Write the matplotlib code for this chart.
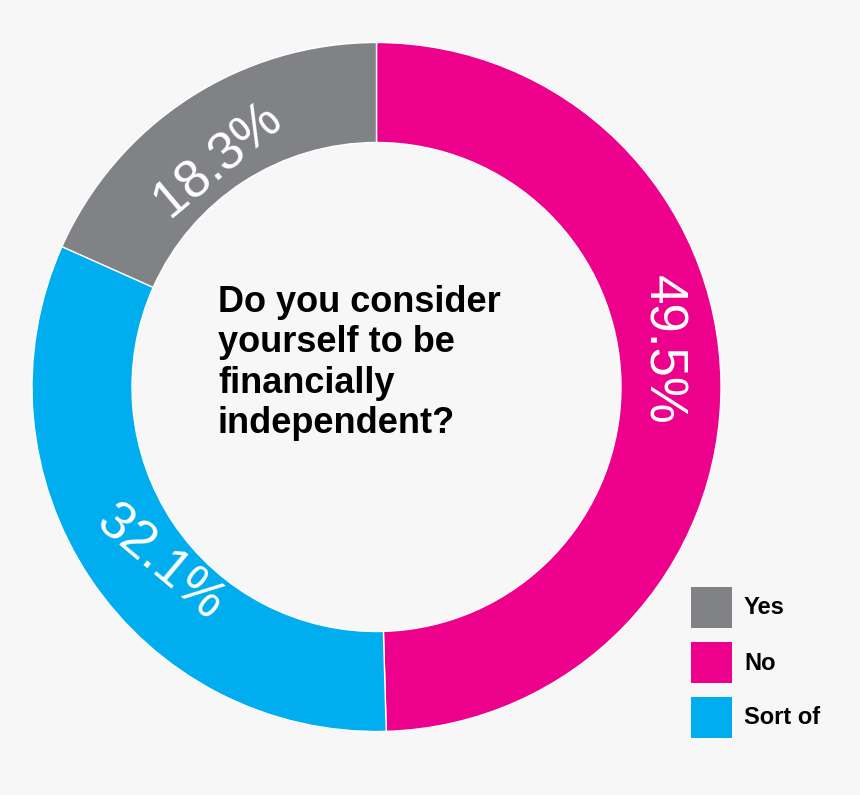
import matplotlib.pyplot as plt
from matplotlib.patches import Rectangle

categories = ["No", "Sort of", "Yes"]
values = [49.5, 32.1, 18.3]
colors = ["#EC008C", "#00AEEF", "#808285"]
legend_order = ["Yes", "No", "Sort of"]
legend_colors = ["#808285", "#EC008C", "#00AEEF"]

plt.rcParams["font.family"] = ["Liberation Sans", "DejaVu Sans"]

fig = plt.figure(figsize=(8.6, 7.95), dpi=100, facecolor="#f7f7f7")
ax = fig.add_axes([0, 0, 1, 1])
ax.set_facecolor("#f7f7f7")
ax.set_xlim(0, 860)
ax.set_ylim(0, 795)
ax.set_aspect("equal")
ax.axis("off")

ax.pie(values, colors=colors, startangle=90, counterclock=False,
       center=(376.5, 408), radius=344.5,
       wedgeprops=dict(width=100, edgecolor="white", linewidth=1))
ax.set_xlim(0, 860)
ax.set_ylim(0, 795)

# slice labels, placed by hand around the ring
label_pos = {"No": (662, 445, -90), "Sort of": (160, 232, -40), "Yes": (218, 635, 40)}
for cat, val in zip(categories, values):
    x, y, rot = label_pos[cat]
    ax.text(x, y, f"{val:.1f}%", color="white", fontsize=38, ha="center", va="center",
            rotation=rot, rotation_mode="anchor")

ax.text(218, 510, "Do you consider\nyourself to be\nfinancially\nindependent?",
        fontsize=26, fontweight="bold", ha="left", va="top", linespacing=1.2, color="black")

for i, (lab, c) in enumerate(zip(legend_order, legend_colors)):
    y0 = 795 - 628 - i * 55
    ax.add_patch(Rectangle((691, y0), 41, 41, facecolor=c, edgecolor="none"))
    ax.text(744, y0 + 20, lab, fontsize=17, fontweight="bold", va="center", ha="left")

fig.savefig("out.png", dpi=100, facecolor=fig.get_facecolor())
